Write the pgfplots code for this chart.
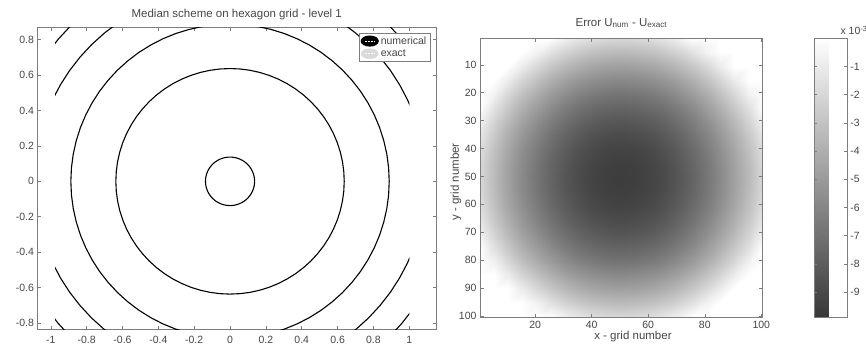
\documentclass[border=0pt]{standalone}
\usepackage{fontspec}
\setmainfont{Liberation Sans}
\usepackage{pgfplots}
\pgfplotsset{compat=1.18}
\usepackage{pgfplotstable}

\definecolor{axgray}{RGB}{125,125,125}
\definecolor{txtgray}{RGB}{70,70,70}

\pgfplotstableread{
c s
1.0000 0.0000
0.9962 0.0872
0.9848 0.1736
0.9659 0.2588
0.9397 0.3420
0.9063 0.4226
0.8660 0.5000
0.8192 0.5736
0.7660 0.6428
0.7071 0.7071
0.6428 0.7660
0.5736 0.8192
0.5000 0.8660
0.4226 0.9063
0.3420 0.9397
0.2588 0.9659
0.1736 0.9848
0.0872 0.9962
0.0000 1.0000
-0.0872 0.9962
-0.1736 0.9848
-0.2588 0.9659
-0.3420 0.9397
-0.4226 0.9063
-0.5000 0.8660
-0.5736 0.8192
-0.6428 0.7660
-0.7071 0.7071
-0.7660 0.6428
-0.8192 0.5736
-0.8660 0.5000
-0.9063 0.4226
-0.9397 0.3420
-0.9659 0.2588
-0.9848 0.1736
-0.9962 0.0872
-1.0000 0.0000
-0.9962 -0.0872
-0.9848 -0.1736
-0.9659 -0.2588
-0.9397 -0.3420
-0.9063 -0.4226
-0.8660 -0.5000
-0.8192 -0.5736
-0.7660 -0.6428
-0.7071 -0.7071
-0.6428 -0.7660
-0.5736 -0.8192
-0.5000 -0.8660
-0.4226 -0.9063
-0.3420 -0.9397
-0.2588 -0.9659
-0.1736 -0.9848
-0.0872 -0.9962
0.0000 -1.0000
0.0872 -0.9962
0.1736 -0.9848
0.2588 -0.9659
0.3420 -0.9397
0.4226 -0.9063
0.5000 -0.8660
0.5736 -0.8192
0.6428 -0.7660
0.7071 -0.7071
0.7660 -0.6428
0.8192 -0.5736
0.8660 -0.5000
0.9063 -0.4226
0.9397 -0.3420
0.9659 -0.2588
0.9848 -0.1736
0.9962 -0.0872
1.0000 0.0000
}\unitcircle

\pgfplotstableread{
x y v
0.5 0.5 0
5.5 0.5 0
10.5 0.5 0
15.5 0.5 0
20.5 0.5 0
25.5 0.5 -0.03
30.5 0.5 -0.72
35.5 0.5 -1.26
40.5 0.5 -1.64
45.5 0.5 -1.87
50.5 0.5 -1.95
55.5 0.5 -1.87
60.5 0.5 -1.64
65.5 0.5 -1.26
70.5 0.5 -0.72
75.5 0.5 -0.03
80.5 0.5 0
85.5 0.5 0
90.5 0.5 0
95.5 0.5 0
100.5 0.5 0
0.5 5.5 0
5.5 5.5 0
10.5 5.5 0
15.5 5.5 0
20.5 5.5 -0.65
25.5 5.5 -1.49
30.5 5.5 -2.18
35.5 5.5 -2.71
40.5 5.5 -3.09
45.5 5.5 -3.32
50.5 5.5 -3.40
55.5 5.5 -3.32
60.5 5.5 -3.09
65.5 5.5 -2.71
70.5 5.5 -2.18
75.5 5.5 -1.49
80.5 5.5 -0.65
85.5 5.5 0
90.5 5.5 0
95.5 5.5 0
100.5 5.5 0
0.5 10.5 0
5.5 10.5 0
10.5 10.5 0
15.5 10.5 -0.95
20.5 10.5 -1.95
25.5 10.5 -2.79
30.5 10.5 -3.48
35.5 10.5 -4.01
40.5 10.5 -4.40
45.5 10.5 -4.63
50.5 10.5 -4.70
55.5 10.5 -4.63
60.5 10.5 -4.40
65.5 10.5 -4.01
70.5 10.5 -3.48
75.5 10.5 -2.79
80.5 10.5 -1.95
85.5 10.5 -0.95
90.5 10.5 0
95.5 10.5 0
100.5 10.5 0
0.5 15.5 0
5.5 15.5 0
10.5 15.5 -0.95
15.5 15.5 -2.10
20.5 15.5 -3.09
25.5 15.5 -3.94
30.5 15.5 -4.63
35.5 15.5 -5.16
40.5 15.5 -5.54
45.5 15.5 -5.77
50.5 15.5 -5.85
55.5 15.5 -5.77
60.5 15.5 -5.54
65.5 15.5 -5.16
70.5 15.5 -4.63
75.5 15.5 -3.94
80.5 15.5 -3.09
85.5 15.5 -2.10
90.5 15.5 -0.95
95.5 15.5 0
100.5 15.5 0
0.5 20.5 0
5.5 20.5 -0.65
10.5 20.5 -1.95
15.5 20.5 -3.09
20.5 20.5 -4.09
25.5 20.5 -4.93
30.5 20.5 -5.62
35.5 20.5 -6.16
40.5 20.5 -6.54
45.5 20.5 -6.77
50.5 20.5 -6.85
55.5 20.5 -6.77
60.5 20.5 -6.54
65.5 20.5 -6.16
70.5 20.5 -5.62
75.5 20.5 -4.93
80.5 20.5 -4.09
85.5 20.5 -3.09
90.5 20.5 -1.95
95.5 20.5 -0.65
100.5 20.5 0
0.5 25.5 -0.03
5.5 25.5 -1.49
10.5 25.5 -2.79
15.5 25.5 -3.94
20.5 25.5 -4.93
25.5 25.5 -5.77
30.5 25.5 -6.46
35.5 25.5 -7.00
40.5 25.5 -7.38
45.5 25.5 -7.61
50.5 25.5 -7.69
55.5 25.5 -7.61
60.5 25.5 -7.38
65.5 25.5 -7.00
70.5 25.5 -6.46
75.5 25.5 -5.77
80.5 25.5 -4.93
85.5 25.5 -3.94
90.5 25.5 -2.79
95.5 25.5 -1.49
100.5 25.5 -0.03
0.5 30.5 -0.72
5.5 30.5 -2.18
10.5 30.5 -3.48
15.5 30.5 -4.63
20.5 30.5 -5.62
25.5 30.5 -6.46
30.5 30.5 -7.15
35.5 30.5 -7.69
40.5 30.5 -8.07
45.5 30.5 -8.30
50.5 30.5 -8.38
55.5 30.5 -8.30
60.5 30.5 -8.07
65.5 30.5 -7.69
70.5 30.5 -7.15
75.5 30.5 -6.46
80.5 30.5 -5.62
85.5 30.5 -4.63
90.5 30.5 -3.48
95.5 30.5 -2.18
100.5 30.5 -0.72
0.5 35.5 -1.26
5.5 35.5 -2.71
10.5 35.5 -4.01
15.5 35.5 -5.16
20.5 35.5 -6.16
25.5 35.5 -7.00
30.5 35.5 -7.69
35.5 35.5 -8.22
40.5 35.5 -8.61
45.5 35.5 -8.83
50.5 35.5 -8.91
55.5 35.5 -8.83
60.5 35.5 -8.61
65.5 35.5 -8.22
70.5 35.5 -7.69
75.5 35.5 -7.00
80.5 35.5 -6.16
85.5 35.5 -5.16
90.5 35.5 -4.01
95.5 35.5 -2.71
100.5 35.5 -1.26
0.5 40.5 -1.64
5.5 40.5 -3.09
10.5 40.5 -4.40
15.5 40.5 -5.54
20.5 40.5 -6.54
25.5 40.5 -7.38
30.5 40.5 -8.07
35.5 40.5 -8.61
40.5 40.5 -8.99
45.5 40.5 -9.22
50.5 40.5 -9.29
55.5 40.5 -9.22
60.5 40.5 -8.99
65.5 40.5 -8.61
70.5 40.5 -8.07
75.5 40.5 -7.38
80.5 40.5 -6.54
85.5 40.5 -5.54
90.5 40.5 -4.40
95.5 40.5 -3.09
100.5 40.5 -1.64
0.5 45.5 -1.87
5.5 45.5 -3.32
10.5 45.5 -4.63
15.5 45.5 -5.77
20.5 45.5 -6.77
25.5 45.5 -7.61
30.5 45.5 -8.30
35.5 45.5 -8.83
40.5 45.5 -9.22
45.5 45.5 -9.45
50.5 45.5 -9.52
55.5 45.5 -9.45
60.5 45.5 -9.22
65.5 45.5 -8.83
70.5 45.5 -8.30
75.5 45.5 -7.61
80.5 45.5 -6.77
85.5 45.5 -5.77
90.5 45.5 -4.63
95.5 45.5 -3.32
100.5 45.5 -1.87
0.5 50.5 -1.95
5.5 50.5 -3.40
10.5 50.5 -4.70
15.5 50.5 -5.85
20.5 50.5 -6.85
25.5 50.5 -7.69
30.5 50.5 -8.38
35.5 50.5 -8.91
40.5 50.5 -9.29
45.5 50.5 -9.52
50.5 50.5 -9.60
55.5 50.5 -9.52
60.5 50.5 -9.29
65.5 50.5 -8.91
70.5 50.5 -8.38
75.5 50.5 -7.69
80.5 50.5 -6.85
85.5 50.5 -5.85
90.5 50.5 -4.70
95.5 50.5 -3.40
100.5 50.5 -1.95
0.5 55.5 -1.87
5.5 55.5 -3.32
10.5 55.5 -4.63
15.5 55.5 -5.77
20.5 55.5 -6.77
25.5 55.5 -7.61
30.5 55.5 -8.30
35.5 55.5 -8.83
40.5 55.5 -9.22
45.5 55.5 -9.45
50.5 55.5 -9.52
55.5 55.5 -9.45
60.5 55.5 -9.22
65.5 55.5 -8.83
70.5 55.5 -8.30
75.5 55.5 -7.61
80.5 55.5 -6.77
85.5 55.5 -5.77
90.5 55.5 -4.63
95.5 55.5 -3.32
100.5 55.5 -1.87
0.5 60.5 -1.64
5.5 60.5 -3.09
10.5 60.5 -4.40
15.5 60.5 -5.54
20.5 60.5 -6.54
25.5 60.5 -7.38
30.5 60.5 -8.07
35.5 60.5 -8.61
40.5 60.5 -8.99
45.5 60.5 -9.22
50.5 60.5 -9.29
55.5 60.5 -9.22
60.5 60.5 -8.99
65.5 60.5 -8.61
70.5 60.5 -8.07
75.5 60.5 -7.38
80.5 60.5 -6.54
85.5 60.5 -5.54
90.5 60.5 -4.40
95.5 60.5 -3.09
100.5 60.5 -1.64
0.5 65.5 -1.26
5.5 65.5 -2.71
10.5 65.5 -4.01
15.5 65.5 -5.16
20.5 65.5 -6.16
25.5 65.5 -7.00
30.5 65.5 -7.69
35.5 65.5 -8.22
40.5 65.5 -8.61
45.5 65.5 -8.83
50.5 65.5 -8.91
55.5 65.5 -8.83
60.5 65.5 -8.61
65.5 65.5 -8.22
70.5 65.5 -7.69
75.5 65.5 -7.00
80.5 65.5 -6.16
85.5 65.5 -5.16
90.5 65.5 -4.01
95.5 65.5 -2.71
100.5 65.5 -1.26
0.5 70.5 -0.72
5.5 70.5 -2.18
10.5 70.5 -3.48
15.5 70.5 -4.63
20.5 70.5 -5.62
25.5 70.5 -6.46
30.5 70.5 -7.15
35.5 70.5 -7.69
40.5 70.5 -8.07
45.5 70.5 -8.30
50.5 70.5 -8.38
55.5 70.5 -8.30
60.5 70.5 -8.07
65.5 70.5 -7.69
70.5 70.5 -7.15
75.5 70.5 -6.46
80.5 70.5 -5.62
85.5 70.5 -4.63
90.5 70.5 -3.48
95.5 70.5 -2.18
100.5 70.5 -0.72
0.5 75.5 -0.03
5.5 75.5 -1.49
10.5 75.5 -2.79
15.5 75.5 -3.94
20.5 75.5 -4.93
25.5 75.5 -5.77
30.5 75.5 -6.46
35.5 75.5 -7.00
40.5 75.5 -7.38
45.5 75.5 -7.61
50.5 75.5 -7.69
55.5 75.5 -7.61
60.5 75.5 -7.38
65.5 75.5 -7.00
70.5 75.5 -6.46
75.5 75.5 -5.77
80.5 75.5 -4.93
85.5 75.5 -3.94
90.5 75.5 -2.79
95.5 75.5 -1.49
100.5 75.5 -0.03
0.5 80.5 0
5.5 80.5 -0.65
10.5 80.5 -1.95
15.5 80.5 -3.09
20.5 80.5 -4.09
25.5 80.5 -4.93
30.5 80.5 -5.62
35.5 80.5 -6.16
40.5 80.5 -6.54
45.5 80.5 -6.77
50.5 80.5 -6.85
55.5 80.5 -6.77
60.5 80.5 -6.54
65.5 80.5 -6.16
70.5 80.5 -5.62
75.5 80.5 -4.93
80.5 80.5 -4.09
85.5 80.5 -3.09
90.5 80.5 -1.95
95.5 80.5 -0.65
100.5 80.5 0
0.5 85.5 0
5.5 85.5 0
10.5 85.5 -0.95
15.5 85.5 -2.10
20.5 85.5 -3.09
25.5 85.5 -3.94
30.5 85.5 -4.63
35.5 85.5 -5.16
40.5 85.5 -5.54
45.5 85.5 -5.77
50.5 85.5 -5.85
55.5 85.5 -5.77
60.5 85.5 -5.54
65.5 85.5 -5.16
70.5 85.5 -4.63
75.5 85.5 -3.94
80.5 85.5 -3.09
85.5 85.5 -2.10
90.5 85.5 -0.95
95.5 85.5 0
100.5 85.5 0
0.5 90.5 0
5.5 90.5 0
10.5 90.5 0
15.5 90.5 -0.95
20.5 90.5 -1.95
25.5 90.5 -2.79
30.5 90.5 -3.48
35.5 90.5 -4.01
40.5 90.5 -4.40
45.5 90.5 -4.63
50.5 90.5 -4.70
55.5 90.5 -4.63
60.5 90.5 -4.40
65.5 90.5 -4.01
70.5 90.5 -3.48
75.5 90.5 -2.79
80.5 90.5 -1.95
85.5 90.5 -0.95
90.5 90.5 0
95.5 90.5 0
100.5 90.5 0
0.5 95.5 0
5.5 95.5 0
10.5 95.5 0
15.5 95.5 0
20.5 95.5 -0.65
25.5 95.5 -1.49
30.5 95.5 -2.18
35.5 95.5 -2.71
40.5 95.5 -3.09
45.5 95.5 -3.32
50.5 95.5 -3.40
55.5 95.5 -3.32
60.5 95.5 -3.09
65.5 95.5 -2.71
70.5 95.5 -2.18
75.5 95.5 -1.49
80.5 95.5 -0.65
85.5 95.5 0
90.5 95.5 0
95.5 95.5 0
100.5 95.5 0
0.5 100.5 0
5.5 100.5 0
10.5 100.5 0
15.5 100.5 0
20.5 100.5 0
25.5 100.5 -0.03
30.5 100.5 -0.72
35.5 100.5 -1.26
40.5 100.5 -1.64
45.5 100.5 -1.87
50.5 100.5 -1.95
55.5 100.5 -1.87
60.5 100.5 -1.64
65.5 100.5 -1.26
70.5 100.5 -0.72
75.5 100.5 -0.03
80.5 100.5 0
85.5 100.5 0
90.5 100.5 0
95.5 100.5 0
100.5 100.5 0
}\errfield

\pgfplotsset{
  mystyle/.style={
    scale only axis,
    axis line style={axgray, line width=0.5pt},
    every tick/.style={axgray, line width=0.5pt},
    tick align=inside,
    major tick length=3.5pt,
    ticklabel style={font=\fontsize{10.5}{12}\selectfont, text=txtgray},
    label style={font=\fontsize{11.5}{13}\selectfont, text=txtgray},
    title style={font=\fontsize{11.5}{13}\selectfont, text=txtgray},
    /pgf/number format/assume math mode=true,
  }
}

\begin{document}
\begin{tikzpicture}[x=1pt,y=1pt]
\useasboundingbox (0,0) rectangle (866,346);

% left: contour plot
\begin{axis}[mystyle,
  at={(37.5pt,16.5pt)}, anchor=south west,
  width=398.5pt, height=302.2pt,
  xmin=-1.074, xmax=1.149, ymin=-0.837, ymax=0.870,
  xtick={-1,-0.8,-0.6,-0.4,-0.2,0,0.2,0.4,0.6,0.8,1},
  ytick={-0.8,-0.6,-0.4,-0.2,0,0.2,0.4,0.6,0.8},
  xticklabel style={yshift=-3pt},
  title={Median scheme on hexagon grid - level 1},
  title style={at={(axis description cs:0.5,1)}, anchor=base, yshift=3.8pt},
  legend style={at={(axis description cs:1,1)}, anchor=north east, xshift=-6pt, yshift=-6pt,
    draw=axgray, font=\fontsize{10.5}{12}\selectfont, text=txtgray,
    inner xsep=1.5pt, inner ysep=1pt, row sep=0pt},
  legend cell align=left,
]
\clip (axis cs:-0.975,-0.9) rectangle (axis cs:1.0,0.9);
\addplot[black, line width=1.1pt,
  legend image code/.code={
    \fill[black] (0.3cm,0cm) ellipse (8.5pt and 5pt);
    \draw[white, dash pattern=on 2pt off 1pt, line width=0.6pt] (0.13cm,0cm) -- (0.47cm,0cm);}]
  table[x expr=0.137*\thisrow{c}, y expr=0.137*\thisrow{s}] {\unitcircle};
\addlegendentry{numerical}
\addplot[black, line width=1.1pt, forget plot] table[x expr=0.637*\thisrow{c}, y expr=0.637*\thisrow{s}] {\unitcircle};
\addplot[black, line width=1.1pt, forget plot] table[x expr=0.888*\thisrow{c}, y expr=0.888*\thisrow{s}] {\unitcircle};
\addplot[black, line width=1.1pt, forget plot] table[x expr=1.092*\thisrow{c}, y expr=1.092*\thisrow{s}] {\unitcircle};
\addplot[black, line width=1.1pt, forget plot] table[x expr=1.250*\thisrow{c}, y expr=1.250*\thisrow{s}] {\unitcircle};
\addlegendimage{legend image code/.code={
    \fill[black!15] (0.3cm,0cm) ellipse (8.5pt and 5pt);
    \draw[white, dash pattern=on 2pt off 1pt, line width=0.6pt] (0.13cm,0cm) -- (0.47cm,0cm);}}
\addlegendentry{exact}
\end{axis}

% right: error field
\begin{axis}[mystyle,
  at={(480pt,28.7pt)}, anchor=south west,
  width=282.7pt, height=279pt,
  xmin=0.5, xmax=100.5, ymin=0.5, ymax=100.5, y dir=reverse,
  enlargelimits=false, axis on top,
  xtick={20,40,60,80,100}, ytick={10,20,30,40,50,60,70,80,90,100},
  xlabel={x - grid number}, ylabel={y - grid number},
  xlabel style={at={(axis description cs:0.541,-0.078)}, anchor=base},
  ylabel style={at={(axis description cs:-0.085,0.485)}, anchor=center},
  title={Error U\textsubscript{num} - U\textsubscript{exact}},
  title style={at={(axis description cs:0.5,1)}, anchor=base, yshift=6.3pt},
  colormap={mygray}{rgb255=(55,55,55) rgb255=(255,255,255)},
  point meta min=-9.9, point meta max=0,
  colorbar,
  colorbar style={
    at={(parent axis.north east)}, anchor=north west, xshift=43pt,
    scale only axis, width=32.6pt, height=279pt,
    y dir=normal,
    ytick={-9,-8,-7,-6,-5,-4,-3,-2,-1},
    yticklabel pos=right, ytick pos=both,
    tick align=inside, major tick length=3pt,
    axis line style={axgray, line width=0.5pt},
    every tick/.style={axgray, line width=0.5pt},
    yticklabel style={font=\fontsize{10.5}{12}\selectfont, text=txtgray},
    /pgf/number format/assume math mode=true,
  },
]
\addplot[surf, shader=interp, mesh/cols=21, point meta=explicit]
  table[x=x, y=y, meta=v] {\errfield};
\end{axis}

\node[anchor=base west, font=\fontsize{10.5}{12}\selectfont, text=txtgray] at (837pt,311pt) {x 10\textsuperscript{-3}};
\end{tikzpicture}
\end{document}
